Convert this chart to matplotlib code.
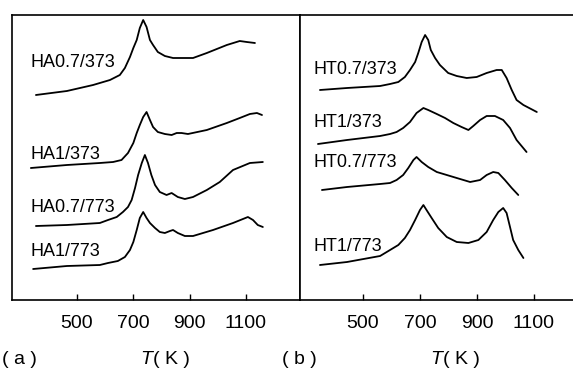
import matplotlib
matplotlib.use('Agg')
import matplotlib.pyplot as plt

plt.rcParams['font.family'] = ['Liberation Sans', 'DejaVu Sans']

W, H = 573, 368
DPI = 100

# ── Panel (a): HA samples, T in K, intensity in arbitrary units
ha07_373_T = [354, 464, 557, 617, 652, 670, 688, 700, 712, 723, 735, 747, 759, 770,
              787, 812, 841, 876, 912, 961, 1032, 1078, 1103, 1132]
ha07_373_I = [205, 209, 215, 220, 225, 232, 243, 252, 260, 272, 280, 273, 260, 255,
              248, 244, 242, 242, 242, 247, 255, 259, 258, 257]

ha1_373_T = [336, 464, 581, 628, 658, 681, 700, 712, 723, 735, 747, 759, 770, 787,
             812, 836, 854, 871, 894, 961, 1032, 1078, 1114, 1139, 1157]
ha1_373_I = [132, 135, 137, 138, 140, 147, 157, 167, 175, 183, 188, 180, 173, 168,
             166, 165, 167, 167, 166, 170, 177, 182, 186, 187, 185]

ha07_773_T = [354, 464, 581, 610, 641, 663, 681, 694, 706, 717, 730, 741, 752, 764,
              777, 794, 818, 836, 858, 883, 912, 961, 1007, 1054, 1114, 1160]
ha07_773_I = [74, 75, 77, 80, 83, 88, 93, 100, 112, 125, 137, 145, 137, 125,
              115, 108, 105, 107, 103, 101, 103, 110, 118, 130, 137, 138]

ha1_773_T = [344, 464, 581, 610, 645, 670, 688, 700, 712, 723, 735, 747, 759, 777,
             794, 812, 830, 841, 858, 883, 912, 983, 1054, 1107, 1125, 1142, 1160]
ha1_773_I = [31, 34, 35, 37, 39, 43, 50, 58, 70, 82, 88, 82, 77, 72,
             68, 67, 69, 70, 67, 64, 64, 70, 77, 83, 80, 75, 73]

# ── Panel (b): HT samples
ht07_373_T = [349, 444, 560, 595, 624, 647, 665, 683, 694, 706, 718, 729, 738, 753,
              770, 799, 829, 864, 899, 934, 969, 987, 1004, 1022, 1039, 1063, 1110]
ht07_373_I = [210, 212, 214, 216, 218, 223, 230, 238, 247, 258, 265, 260, 250, 242,
              235, 227, 224, 222, 223, 227, 230, 230, 222, 210, 200, 195, 188]

ht1_373_T = [342, 444, 560, 595, 618, 641, 665, 688, 712, 729, 759, 788, 817, 846,
             870, 887, 911, 934, 963, 992, 1016, 1039, 1074]
ht1_373_I = [156, 160, 164, 166, 168, 172, 178, 187, 192, 190, 186, 182, 177, 173,
             170, 174, 180, 184, 184, 180, 172, 160, 148]

ht07_773_T = [356, 444, 560, 595, 618, 641, 659, 677, 688, 706, 729, 759, 794, 829,
              876, 911, 934, 957, 975, 998, 1022, 1045]
ht07_773_I = [110, 113, 116, 117, 120, 125, 132, 140, 143, 138, 133, 128, 125, 122,
              118, 120, 125, 128, 127, 120, 112, 105]

ht1_773_T = [349, 444, 560, 595, 624, 647, 665, 683, 700, 712, 723, 741, 764, 794,
             829, 870, 905, 934, 957, 975, 992, 1004, 1016, 1027, 1045, 1063]
ht1_773_I = [35, 38, 44, 50, 55, 62, 70, 80, 90, 95, 90, 82, 72, 63,
             58, 57, 60, 68, 80, 88, 92, 87, 73, 60, 50, 42]

xticks = [500, 700, 900, 1100]

panel_a = [
    ('HA0.7/373', ha07_373_T, ha07_373_I, 237),
    ('HA1/373', ha1_373_T, ha1_373_I, 145),
    ('HA0.7/773', ha07_773_T, ha07_773_I, 92),
    ('HA1/773', ha1_773_T, ha1_773_I, 48),
]
panel_b = [
    ('HT0.7/373', ht07_373_T, ht07_373_I, 230),
    ('HT1/373', ht1_373_T, ht1_373_I, 177),
    ('HT0.7/773', ht07_773_T, ht07_773_I, 137),
    ('HT1/773', ht1_773_T, ht1_773_I, 53),
]

fig = plt.figure(figsize=(W / DPI, H / DPI), dpi=DPI, facecolor='white')


def px_axes(x0, x1, y0, y1):
    # pixel box (top-left origin) -> figure fraction axes
    return fig.add_axes([x0 / W, 1 - y1 / H, (x1 - x0) / W, (y1 - y0) / H])


def draw_panel(ax, curves, xlim, label_x):
    ax.set_xlim(*xlim)
    ax.set_ylim(0, 285)
    for name, T, I, ly in curves:
        ax.plot(T, I, color='black', lw=1.3, solid_joinstyle='round',
                solid_capstyle='round')
        ax.text(label_x, ly, name, fontsize=13, ha='left', va='center')
    ax.set_xticks(xticks)
    ax.set_xticklabels([str(t) for t in xticks])
    ax.set_yticks([])
    ax.tick_params(axis='x', direction='in', length=4, width=1.0,
                   labelsize=14, pad=11)
    for s in ax.spines.values():
        s.set_linewidth(1.2)


ax1 = px_axes(12, 300, 15, 300)
draw_panel(ax1, panel_a, (269, 1292), 333)

ax2 = px_axes(300, 573, 15, 300)
draw_panel(ax2, panel_b, (279, 1237), 325)
ax2.spines['right'].set_visible(False)

# ── bottom captions
cy = 1 - 360 / H
fig.text(2 / W, cy, '( a )', fontsize=14, ha='left', va='center')
fig.text(140 / W, cy, 'T', fontsize=14, style='italic', ha='left', va='center')
fig.text(153 / W, cy, '( K )', fontsize=14, ha='left', va='center')
fig.text(282 / W, cy, '( b )', fontsize=14, ha='left', va='center')
fig.text(430 / W, cy, 'T', fontsize=14, style='italic', ha='left', va='center')
fig.text(443 / W, cy, '( K )', fontsize=14, ha='left', va='center')

fig.savefig('out.png', dpi=DPI, facecolor='white')
